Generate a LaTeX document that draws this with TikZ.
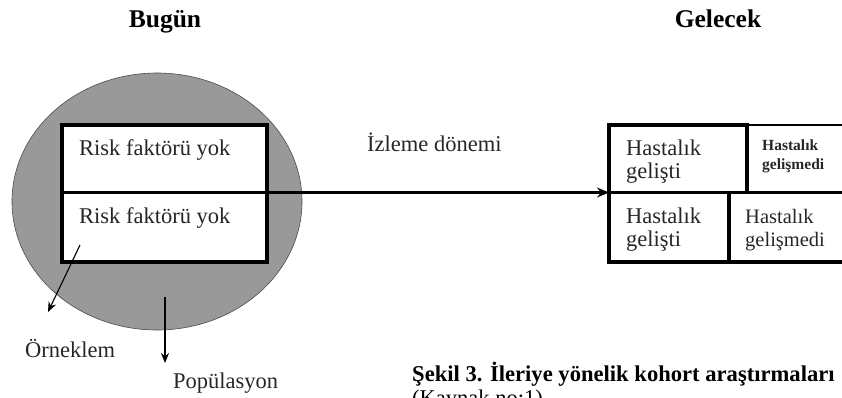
\documentclass[tikz,border=0pt]{standalone}
\usepackage{fontspec}
\setmainfont{Liberation Serif}
\usetikzlibrary{arrows.meta,shapes.geometric}
\begin{document}
\begin{tikzpicture}[x=1pt,y=-1pt,
  txt/.style={anchor=base west,inner sep=0pt,font=\fontsize{22.5}{23.5}\selectfont,text=black!85,align=left},
  narrowtxt/.style={txt,font=\fontsize{20.5}{23.5}\selectfont},
  smalltxt/.style={anchor=base west,inner sep=0pt,font=\fontsize{15.5}{19}\selectfont\bfseries,text=black!85,align=left},
  heading/.style={anchor=base,inner sep=0pt,font=\fontsize{25.5}{28}\selectfont\bfseries},
  caption/.style={anchor=base west,inner sep=0pt,font=\fontsize{22.6}{24}\selectfont\bfseries},
  thick box/.style={draw=black,line width=3.2pt},
  thin edge/.style={draw=black,line width=1.8pt},
  pointer/.style={draw=black,line width=1.1pt,-{Stealth[length=10pt,width=8pt]}},
  main arrow/.style={draw=black,line width=3.2pt,-{Stealth[length=12pt,width=10pt]}},
]
\useasboundingbox (0,0) rectangle (842,397);
\begin{scope}
\clip (0,0) rectangle (842,397);

% headings
\node[heading] (today) at (165,27) {Bugün};
\node[heading] (future) at (718,27) {Gelecek};

% population and the sample inside it
\node[ellipse,draw=black!70,line width=0.6pt,fill=black!40,
      minimum width=290pt,minimum height=257pt,inner sep=0pt] (pop) at (157,201.5) {};
\draw[thick box,fill=white] (62,125) rectangle (267,262);
\draw[thick box] (62,192.5) -- (267,192.5);
\node[txt] (rf1) at (79,155) {Risk faktörü yok};
\node[txt] (rf2) at (79,223) {Risk faktörü yok};

% follow-up arrow
\coordinate (sampleout) at (267,192.5);
\coordinate (outcomein) at (609,192.5);
\draw[main arrow] (sampleout) -- (outcomein);
\node[txt] (followup) at (367,151) {İzleme dönemi};

% outcome table
\draw[thin edge] (747,125) -- (842,125);
\draw[thick box] (609,125) rectangle (747,192.5);
\draw[thick box] (609,192.5) -- (842,192.5);
\draw[thick box] (842,262) -- (609,262) -- (609,192.5);
\draw[thick box] (729,192.5) -- (729,262);
% multi-line nodes: the base anchor sits on the last line
\node[txt] (o1) at (626,178.5) {Hastalık\\gelişti};
\node[smalltxt] (o2) at (762,169) {Hastalık\\gelişmedi};
\node[txt] (o3) at (626,246.5) {Hastalık\\gelişti};
\node[narrowtxt] (o4) at (745,246.5) {Hastalık\\gelişmedi};

% labels with pointers
\coordinate (sfrom) at (80,245);
\coordinate (sto) at (48,312);
\draw[pointer] (sfrom) -- (sto);
\node[txt] (sample) at (25,357) {Örneklem};
\coordinate (pfrom) at (165,297);
\coordinate (pto) at (165,363);
\draw[pointer] (pfrom) -- (pto);
\node[txt] (poplabel) at (173,388) {Popülasyon};

% caption
\node[caption] (cap1) at (412,381) {Şekil 3. İleriye yönelik kohort araştırmaları};
\node[txt,text=black] (cap2) at (412,405) {(Kaynak no:1)};
\end{scope}
\end{tikzpicture}
\end{document}
